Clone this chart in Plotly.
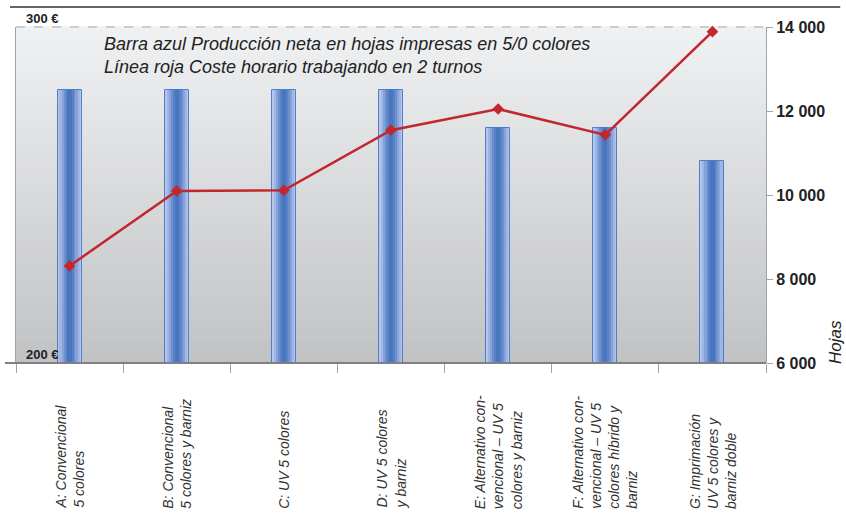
import plotly.graph_objects as go

categories = ["A", "B", "C", "D", "E", "F", "G"]
category_labels = [
    "A: Convencional<br>5 colores",
    "B: Convencional<br>5 colores y barniz",
    "C: UV 5 colores",
    "D: UV 5 colores<br>y barniz",
    "E: Alternativo con-<br>vencional – UV 5<br>colores y barniz",
    "F: Alternativo con-<br>vencional – UV 5<br>colores híbrido y<br>barniz",
    "G: Imprimación<br>UV 5 colores y<br>barniz doble",
]
hojas = [12500, 12500, 12500, 12500, 11600, 11600, 10800]
coste = [228.9, 251.2, 251.4, 269.3, 275.6, 267.9, 298.6]

hojas_ticks = [6000, 8000, 10000, 12000, 14000]
hojas_ticktext = ["6 000", "8 000", "10 000", "12 000", "14 000"]
euro_ticks = [200, 300]
euro_ticktext = ["200 €", "300 €"]

title_lines = [
    "Barra azul Producción neta en hojas impresas en 5/0 colores",
    "Línea roja Coste horario trabajando en 2 turnos",
]

SANS = "Liberation Sans, Arial, sans-serif"

fig = go.Figure()

# layered bars to imitate horizontal gradient
layers = [
    (0.225, "#b4c6ea", dict(color="#4f7fcc", width=1)),
    (0.19, "#9fb5e2", dict(width=0)),
    (0.15, "#86a2d9", dict(width=0)),
    (0.11, "#6d8fd0", dict(width=0)),
    (0.075, "#5882c8", dict(width=0)),
    (0.04, "#4a76be", dict(width=0)),
]
for w, c, ln in layers:
    fig.add_trace(go.Bar(
        x=categories, y=hojas, width=w, marker=dict(color=c, line=ln),
        yaxis="y", showlegend=False, hoverinfo="skip",
    ))

fig.add_trace(go.Scatter(
    x=categories, y=coste, yaxis="y2", mode="lines+markers",
    line=dict(color="#c1272d", width=2.5),
    marker=dict(symbol="diamond", size=9, color="#c1272d"),
    cliponaxis=False, showlegend=False,
))

# gradient background stripes
shapes = []
n = 80
top = (0xf0, 0xf1, 0xf2)
bot = (0xc1, 0xc2, 0xc4)
for i in range(n):
    t = i / (n - 1)
    col = tuple(round(bot[k] + (top[k] - bot[k]) * t) for k in range(3))
    shapes.append(dict(
        type="rect", xref="x domain", yref="y domain",
        x0=0, x1=1, y0=i / n, y1=(i + 1) / n + 0.002,
        fillcolor="rgb(%d,%d,%d)" % col, line=dict(width=0), layer="below",
    ))
# dashed top line
shapes.append(dict(type="line", xref="paper", yref="paper", x0=0, x1=1, y0=1, y1=1,
                   line=dict(color="#a3a7ab", width=1, dash="dash")))
# top black rule
shapes.append(dict(type="line", xref="paper", yref="paper", x0=-0.008, x1=1.099,
                   y0=1.0595, y1=1.0595, line=dict(color="#333333", width=1.5)))
# bottom axis line extension
shapes.append(dict(type="line", xref="paper", yref="paper", x0=-0.0147, x1=1,
                   y0=0, y1=0, line=dict(color="#808080", width=2)))

annotations = []
for cat, lab in zip(categories, category_labels):
    annotations.append(dict(
        x=cat, xref="x", y=-0.4405, yref="paper", text=lab, textangle=-90,
        xanchor="center", yanchor="bottom", align="left", showarrow=False,
        font=dict(family=SANS, size=14, color="#333333", style="italic"),
    ))
for v, t in zip(euro_ticks, euro_ticktext):
    annotations.append(dict(
        x=0.01, xref="paper", y=v, yref="y2", text="<b>%s</b>" % t,
        xanchor="left", yanchor="bottom", showarrow=False, yshift=-1,
        font=dict(family=SANS, size=13, color="#222222"),
    ))
annotations.append(dict(
    x=0.115, xref="paper", y=0.985, yref="paper",
    text="<br>".join(title_lines), xanchor="left", yanchor="top", align="left",
    showarrow=False,
    font=dict(family=SANS, size=18, color="#222222", style="italic"),
))
annotations.append(dict(
    x=1.092, xref="paper", y=0.0625, yref="paper", text="Hojas", textangle=-90,
    xanchor="center", yanchor="middle", showarrow=False,
    font=dict(family=SANS, size=17, color="#222222", style="italic"),
))

fig.update_layout(
    width=846, height=515,
    margin=dict(l=16, r=80, t=27, b=152),
    paper_bgcolor="white", plot_bgcolor="#d8d9db",
    barmode="overlay", bargap=0,
    shapes=shapes, annotations=annotations,
    xaxis=dict(
        type="category", showticklabels=False, ticks="outside", tickson="boundaries",
        ticklen=9, tickcolor="#a0a4a8", tickwidth=1, showgrid=False,
        showline=False, zeroline=False,
    ),
    yaxis=dict(
        side="right", range=[6000, 14000], tickvals=hojas_ticks,
        ticktext=["<b>%s</b>" % t for t in hojas_ticktext],
        ticks="outside", ticklen=6, tickcolor="#a0a4a8", showgrid=False,
        showline=True, linecolor="#a0a4a8", linewidth=1, zeroline=False,
        tickfont=dict(family=SANS, size=16, color="#222222"),
    ),
    yaxis2=dict(
        overlaying="y", side="left", range=[200, 300], showticklabels=False,
        ticks="", showgrid=False, showline=True, linecolor="#a0a4a8", linewidth=1,
        zeroline=False,
    ),
)

fig.write_html("out.html", config={"displayModeBar": False},
               post_script="document.body.style.margin='0';")
